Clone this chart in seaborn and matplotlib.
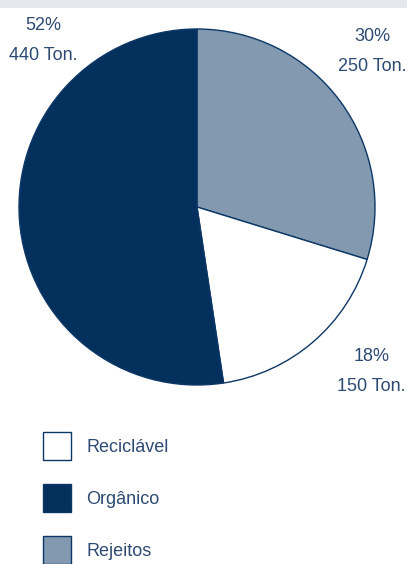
import matplotlib
matplotlib.use("Agg")
import matplotlib.pyplot as plt
import seaborn as sns
from matplotlib.patches import Rectangle

# dados (toneladas)
categorias = ['Rejeitos', 'Reciclável', 'Orgânico']
toneladas = [250, 150, 440]
percentuais = ['30%', '18%', '52%']
cores = ['#8299b0', '#ffffff', '#04305e']
ordem_legenda = ['Reciclável', 'Orgânico', 'Rejeitos']

sns.set_theme(style="white")
plt.rcParams['font.family'] = ['Liberation Sans', 'DejaVu Sans']
txt_cor = '#2c4a72'
fs = 13

fig = plt.figure(figsize=(4.07, 5.64), dpi=100)
fig.patches.append(Rectangle((0, 1 - 8 / 564), 1, 8 / 564, transform=fig.transFigure,
                             facecolor='#e4e8ec', edgecolor='none'))

ax = fig.add_axes([19 / 407, 1 - 385 / 564, 356 / 407, 356 / 564])
wedges, _ = ax.pie(toneladas, colors=cores, startangle=90, counterclock=False,
                   wedgeprops=dict(edgecolor='#0d3766', linewidth=1.0))
ax.set_xlim(-1, 1)
ax.set_ylim(-1, 1)
ax.set_aspect('equal')

# rótulos
pos = {'Rejeitos': (0.993, 0.937), 'Reciclável': (0.99, 0.038), 'Orgânico': (0.067, 0.968)}
for cat, t, p in zip(categorias, toneladas, percentuais):
    x, y = pos[cat]
    ax.text(x, y, f'{p}\n{t} Ton.', transform=ax.transAxes, ha='center', va='center',
            multialignment='center', fontsize=fs, color=txt_cor, linespacing=1.95)

handles = [wedges[categorias.index(c)] for c in ordem_legenda]
leg = fig.legend(handles, ordem_legenda, loc='upper left',
                 bbox_to_anchor=(43 / 407, 1 - 432 / 564), frameon=False,
                 fontsize=fs, handlelength=1.55, handleheight=2.01,
                 labelspacing=1.33, handletextpad=0.85, borderaxespad=0, borderpad=0)
for txt in leg.get_texts():
    txt.set_color(txt_cor)

fig.savefig('out.png', dpi=100)
